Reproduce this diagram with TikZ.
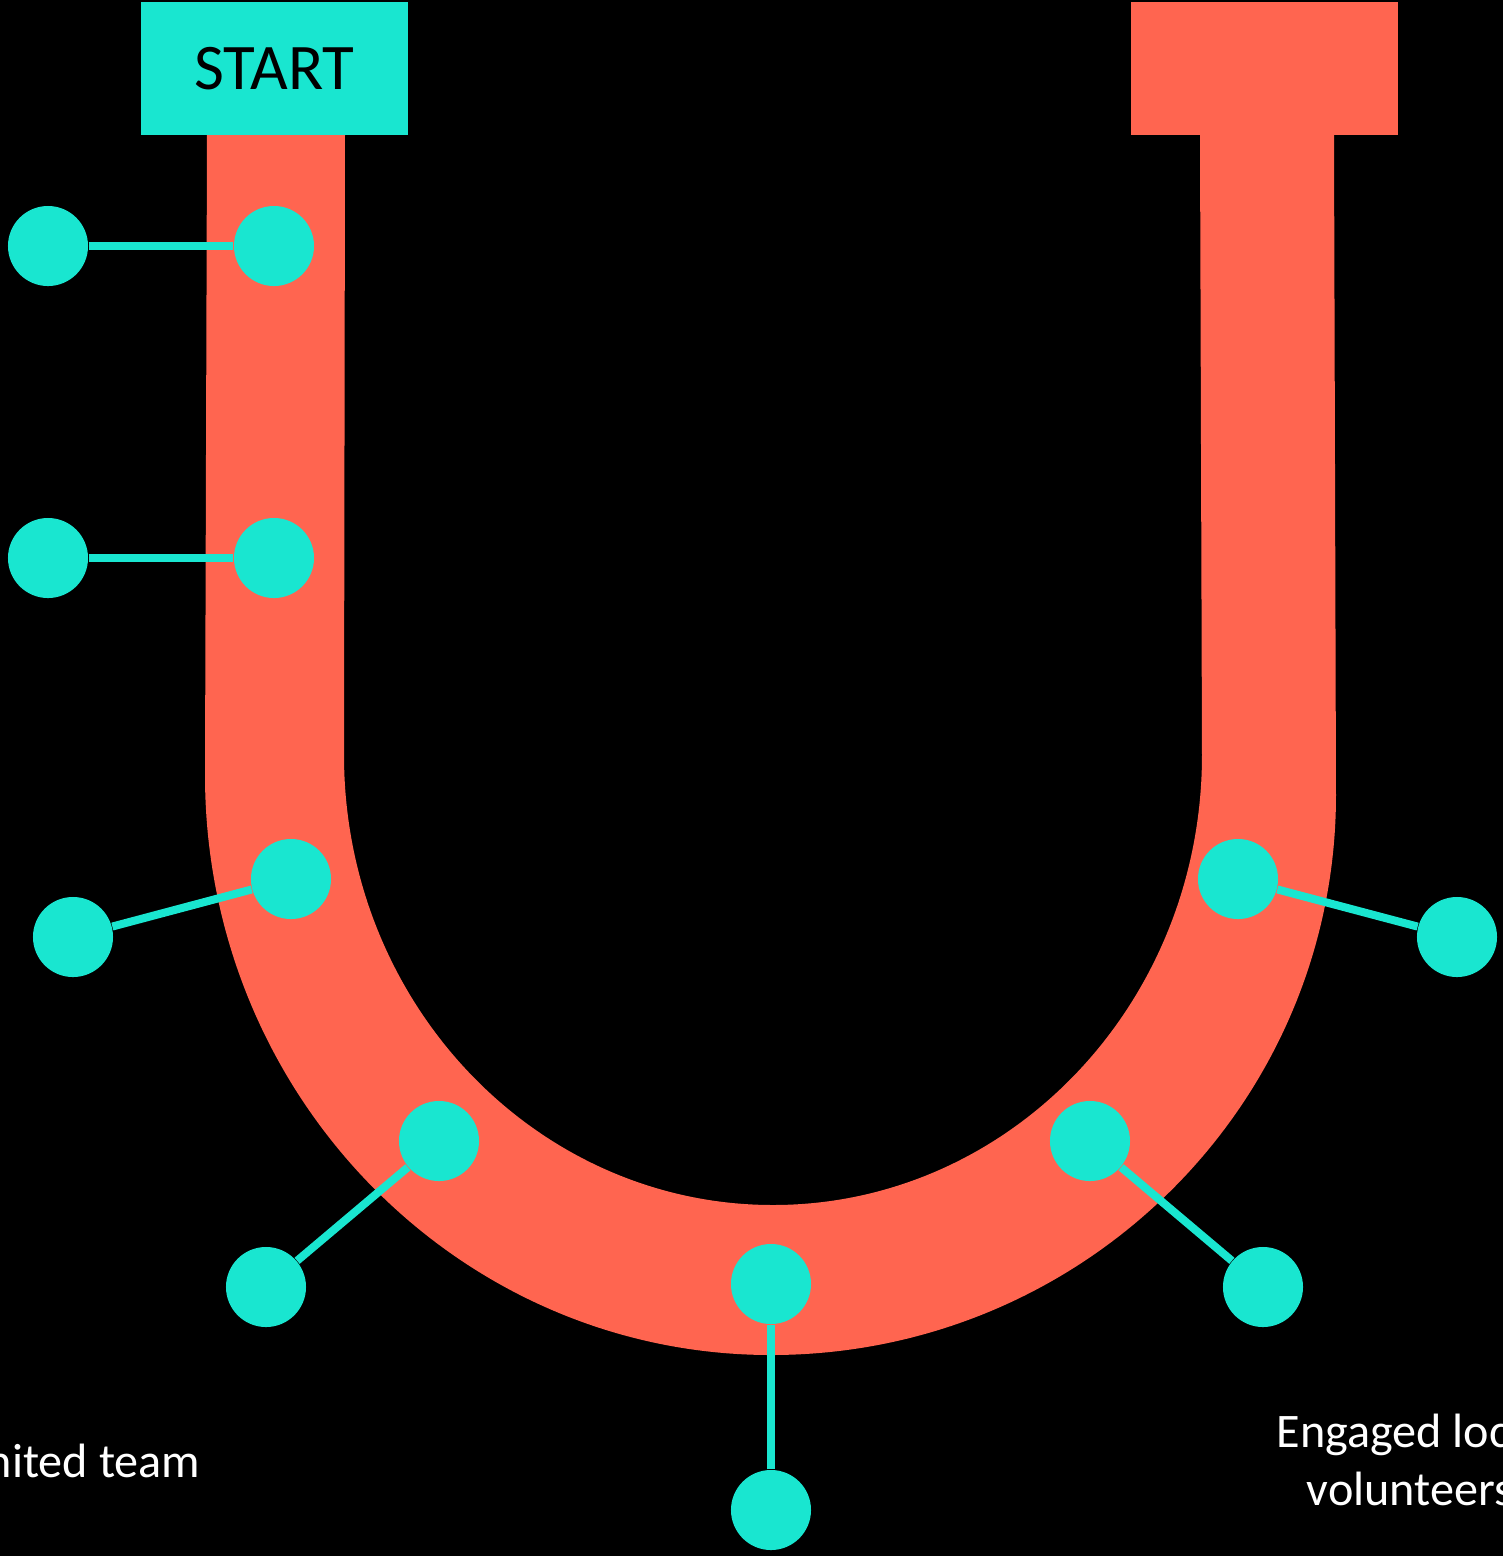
\documentclass[tikz,border=0pt]{standalone}
\usepackage{fontspec}
\setmainfont{Carlito}
\usetikzlibrary{positioning}
\definecolor{coral}{RGB}{255,101,80}
\definecolor{teal}{RGB}{25,230,208}

\begin{document}
\begin{tikzpicture}[x = 0.01cm, y = -0.01cm,
		dot/.style = {circle, fill = teal, inner sep = 0pt, minimum size = 0.8cm},
		link/.style = {teal, line width = 0.08cm},
		capbox/.style = {rectangle, inner sep = 0pt, minimum width = 2.67cm, minimum height = 1.33cm},
		tag/.style = {white, inner sep = 0pt, font = \fontsize{13.7pt}{16.5pt}\selectfont}]
	\useasboundingbox (0, 0) rectangle (1503, 1556);
	\fill [black] (0, 0) rectangle (1503, 1556);
	\fill [coral] (207, 135) -- (205, 775)
		arc [start angle = 180, end angle = 90, x radius = 566, y radius = 580]
		arc [start angle = 90, end angle = 0, x radius = 565, y radius = 560]
		-- (1334, 135) -- (1200, 135) -- (1202, 755)
		arc [start angle = 0, end angle = 180, x radius = 429, y radius = 450]
		-- (345, 135) -- cycle;
	\node [capbox, fill = teal, font = \fontsize{18.5pt}{22pt}\selectfont] (start) at (274.5, 68.5) {START};
	\node [capbox, fill = coral] (finish) at (1264.5, 68.5) {};
	\foreach \i/\xa/\ya/\xb/\yb in {1/48/246/274/246, 2/48/558/274/558, 3/73/937/291/879, 4/266/1287/439/1141, 5/771/1510/771/1284, 6/1263/1287/1090/1141, 7/1457/937/1238/879} {
		\node [dot] (out\i) at (\xa, \ya) {};
		\node [dot] (on\i) at (\xb, \yb) {};
		\draw [link] (out\i) -- (on\i);
	}
	\node [tag, anchor = base east] (united) at (201, 1477) {United team};
	\node [tag, align = center, anchor = north] (engaged) at (1410, 1413) {Engaged local\\volunteers};
\end{tikzpicture}
\end{document}
